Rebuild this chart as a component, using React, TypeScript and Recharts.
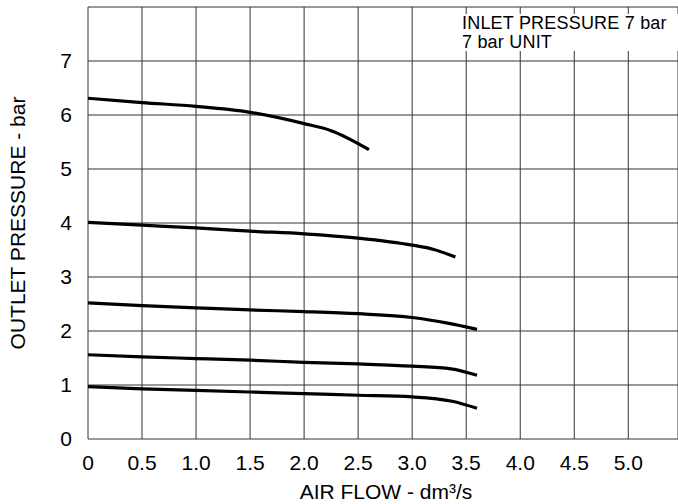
import { LineChart, Line, XAxis, YAxis, CartesianGrid } from 'recharts';

// curves, outlet pressure (bar) vs air flow (dm3/s)
const flow1 = [0, 0.5, 1.0, 1.5, 2.0, 2.25, 2.6];
const outlet1 = [6.31, 6.23, 6.16, 6.05, 5.84, 5.71, 5.36];

const flow2 = [0, 0.5, 1.0, 1.5, 2.0, 2.5, 3.0, 3.2, 3.4];
const outlet2 = [4.01, 3.96, 3.91, 3.85, 3.8, 3.72, 3.59, 3.51, 3.37];

const flow3 = [0, 0.5, 1.0, 1.5, 2.0, 2.5, 3.0, 3.34, 3.6];
const outlet3 = [2.52, 2.47, 2.43, 2.39, 2.36, 2.32, 2.25, 2.14, 2.03];

const flow4 = [0, 0.5, 1.0, 1.5, 2.0, 2.5, 3.0, 3.36, 3.6];
const outlet4 = [1.56, 1.52, 1.49, 1.46, 1.42, 1.39, 1.35, 1.3, 1.18];

const flow5 = [0, 0.5, 1.0, 1.5, 2.0, 2.5, 3.0, 3.37, 3.6];
const outlet5 = [0.97, 0.93, 0.9, 0.87, 0.84, 0.81, 0.78, 0.7, 0.57];

const xTicks = [0, 0.5, 1.0, 1.5, 2.0, 2.5, 3.0, 3.5, 4.0, 4.5, 5.0];
const yTicks = [0, 1, 2, 3, 4, 5, 6, 7, 8];

const noteLines = ['INLET PRESSURE 7 bar', '7 bar UNIT'];

const FONT = '"Liberation Sans", Arial, Helvetica, sans-serif';

const toPoints = (xs: number[], ys: number[]) => xs.map((x, i) => ({ x, y: ys[i] }));

const curves = [
  toPoints(flow1, outlet1),
  toPoints(flow2, outlet2),
  toPoints(flow3, outlet3),
  toPoints(flow4, outlet4),
  toPoints(flow5, outlet5),
];

export default function App() {
  return (
    <div style={{ position: 'absolute', left: 0, top: 0, width: 678, height: 504, background: '#fff', fontFamily: FONT }}>
      <LineChart width={678} height={504} margin={{ top: 7, right: 0, left: 0, bottom: 0 }}>
        <CartesianGrid stroke="#333" strokeWidth={1} />
        <XAxis
          type="number"
          dataKey="x"
          domain={[0, 5.46]}
          ticks={xTicks}
          allowDuplicatedCategory={false}
          height={65}
          axisLine={false}
          tickLine={false}
          tickSize={0}
          tickMargin={16}
          tick={{ fill: '#000', fontSize: 21, fontFamily: FONT }}
          tickFormatter={(v: number) => (v === 0 ? '0' : v.toFixed(1))}
          label={{
            content: () => (
              <text x={386} y={499} textAnchor="middle" fill="#000" fontSize={21} fontFamily={FONT}>
                AIR FLOW - dm³/s
              </text>
            ),
          }}
        />
        <YAxis
          type="number"
          dataKey="y"
          domain={[0, 8]}
          ticks={yTicks}
          width={88}
          axisLine={false}
          tickLine={false}
          tickSize={0}
          tickMargin={16}
          tick={{ fill: '#000', fontSize: 21, fontFamily: FONT }}
          tickFormatter={(v: number) => (v === 8 ? '' : String(v))}
          label={{
            content: () => (
              <text
                x={25}
                y={223}
                transform="rotate(-90 25 223)"
                textAnchor="middle"
                fill="#000"
                fontSize={21}
                fontFamily={FONT}
              >
                OUTLET PRESSURE - bar
              </text>
            ),
          }}
        />
        {curves.map((pts, i) => (
          <Line
            key={i}
            data={pts}
            dataKey="y"
            type="monotone"
            stroke="#000"
            strokeWidth={3.2}
            dot={false}
            activeDot={false}
            isAnimationActive={false}
          />
        ))}
      </LineChart>
      <div
        style={{
          position: 'absolute',
          left: 459,
          top: 13.5,
          width: 219,
          height: 37,
          background: '#fff',
          fontSize: 18,
          lineHeight: '19px',
          letterSpacing: 0.2,
          paddingLeft: 3,
          boxSizing: 'border-box',
          color: '#000',
          whiteSpace: 'nowrap',
        }}
      >
        {noteLines.map((t) => (
          <div key={t}>{t}</div>
        ))}
      </div>
    </div>
  );
}
